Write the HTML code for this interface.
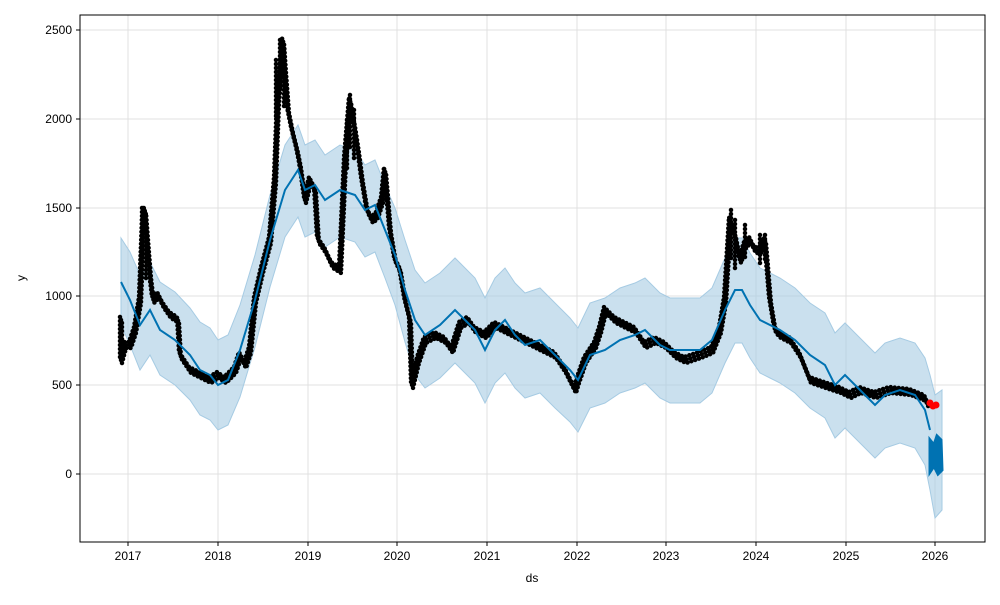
<!DOCTYPE html>
<html><head><meta charset="utf-8"><style>
body{margin:0;background:#fff;font-family:"Liberation Sans",sans-serif}
</style></head><body>
<svg width="1000" height="600" xmlns="http://www.w3.org/2000/svg" font-family="Liberation Sans, sans-serif" font-size="12">
<defs>
<polyline id="d" points="121,320 121,360 125,345 130,345 135,330 140,300 143,220 145,210 148,250 150,275 153,300 158,295 163,305 170,315 178,320 180,355 190,370 200,375 210,380 218,375 225,380 235,370 240,355 245,365 250,350 255,300 262,270 270,240 275,180 278,100 283,40 285,70 288,110 292,130 297,150 300,165 305,200 310,180 315,190 318,240 325,250 332,265 340,270 345,160 350,100 355,130 358,150 362,180 367,210 372,220 377,215 382,200 385,170 390,230 395,260 400,270 405,300 410,320 412,385 418,360 425,340 435,335 445,340 452,350 460,325 468,320 475,330 485,335 495,325 505,330 515,335 525,340 535,345 545,350 555,355 565,370 575,390 578,380 585,360 595,345 600,330 605,310 615,320 625,325 635,330 645,345 655,340 665,345 675,355 685,360 700,355 712,350 720,330 725,300 730,220 735,235 740,260 745,245 750,240 755,250 760,250 765,240 770,300 775,330 780,335 790,340 800,355 810,380 825,385 840,390 850,395 860,390 875,395 890,390 910,392 925,398 928,405"/>
</defs>
<g stroke="#e0e0e0" stroke-width="1">
<line x1="128" y1="15" x2="128" y2="542"/><line x1="218" y1="15" x2="218" y2="542"/><line x1="308" y1="15" x2="308" y2="542"/><line x1="397" y1="15" x2="397" y2="542"/><line x1="487" y1="15" x2="487" y2="542"/><line x1="577" y1="15" x2="577" y2="542"/><line x1="666" y1="15" x2="666" y2="542"/><line x1="756" y1="15" x2="756" y2="542"/><line x1="846" y1="15" x2="846" y2="542"/><line x1="935" y1="15" x2="935" y2="542"/>
<line x1="80" y1="30" x2="985" y2="30"/><line x1="80" y1="119" x2="985" y2="119"/><line x1="80" y1="208" x2="985" y2="208"/><line x1="80" y1="296" x2="985" y2="296"/><line x1="80" y1="385" x2="985" y2="385"/><line x1="80" y1="474" x2="985" y2="474"/>
</g>
<path fill="#a6cbe3" fill-opacity="0.6" stroke="#a6cbe3" stroke-width="1" d="M121,238 L130,252 L140,275 L150,262 L160,282 L175,292 L190,308 L200,322 L210,328 L218,340 L228,335 L240,305 L255,255 L270,195 L285,145 L298,125 L305,145 L315,140 L325,155 L340,145 L355,150 L365,165 L375,160 L385,185 L395,208 L405,240 L415,270 L425,283 L440,273 L455,258 L465,268 L475,278 L485,298 L495,278 L505,268 L515,283 L525,293 L540,288 L555,303 L570,318 L578,328 L590,303 L605,298 L620,288 L635,283 L645,278 L660,293 L670,298 L685,298 L700,298 L712,288 L725,258 L735,238 L742,238 L750,253 L760,268 L770,273 L780,278 L795,288 L810,303 L825,313 L835,333 L845,323 L855,333 L865,343 L875,353 L885,343 L900,338 L915,343 L925,358 L930,375 L935,395 L942,390 L942,510 L935,518 L930,490 L925,465 L915,448 L900,443 L885,448 L875,458 L865,448 L855,438 L845,428 L835,438 L825,418 L810,408 L795,393 L780,383 L770,378 L760,373 L750,358 L742,343 L735,343 L725,363 L712,393 L700,403 L685,403 L670,403 L660,398 L645,383 L635,388 L620,393 L605,403 L590,408 L578,432 L570,422 L555,408 L540,393 L525,398 L515,388 L505,373 L495,383 L485,403 L475,383 L465,373 L455,363 L440,378 L425,388 L415,375 L405,342 L395,305 L385,278 L375,252 L365,257 L355,242 L340,237 L325,247 L315,232 L305,237 L298,217 L285,237 L270,287 L255,347 L240,397 L228,425 L218,430 L210,420 L200,415 L190,400 L175,385 L160,375 L150,355 L140,370 L130,345 L121,325 Z"/>
<g fill="none" stroke="#000" stroke-width="4.5" stroke-linecap="round" stroke-dasharray="0 4">
<use href="#d"/>
<use href="#d" transform="translate(1,3)"/>
<use href="#d" transform="translate(-1,-3)"/>
<path d="M142,208 L142,260 M146,230 L146,280 M276,60 L276,120 M280,40 L280,90 M284,50 L284,110 M347,120 L347,170 M350,95 L350,150 M354,110 L354,160 M731,210 L731,260 M735,220 L735,270 M745,225 L745,260 M760,235 L760,265 M765,235 L765,260"/>
</g>
<circle cx="930" cy="403" r="3.5" fill="red"/><circle cx="933" cy="406" r="3.5" fill="red"/><circle cx="936" cy="405" r="3.5" fill="red"/>
<polyline fill="none" stroke="#0072b2" stroke-width="2" points="121,282 130,300 140,325 150,310 160,330 175,340 190,355 200,370 210,375 218,385 228,380 240,350 255,300 270,240 285,190 298,170 305,190 315,185 325,200 340,190 355,195 365,210 375,205 385,230 395,255 405,290 415,320 425,335 440,325 455,310 465,320 475,330 485,350 495,330 505,320 515,335 525,345 540,340 555,355 570,370 578,380 590,355 605,350 620,340 635,335 645,330 660,345 670,350 685,350 700,350 712,340 725,310 735,290 742,290 750,305 760,320 770,325 780,330 795,340 810,355 825,365 835,385 845,375 855,385 865,395 875,405 885,395 900,390 915,395 925,410 930,430"/>
<path d="M930,440 L934,445 L937,436 L941,440 L942,470 L938,474 L934,466 L930,472 Z" fill="#0072b2" stroke="#0072b2" stroke-width="3"/>
<rect x="80" y="15" width="905" height="527" fill="none" stroke="#000" stroke-width="1"/>
<g stroke="#000"><line x1="128" y1="542" x2="128" y2="546"/><line x1="218" y1="542" x2="218" y2="546"/><line x1="308" y1="542" x2="308" y2="546"/><line x1="397" y1="542" x2="397" y2="546"/><line x1="487" y1="542" x2="487" y2="546"/><line x1="577" y1="542" x2="577" y2="546"/><line x1="666" y1="542" x2="666" y2="546"/><line x1="756" y1="542" x2="756" y2="546"/><line x1="846" y1="542" x2="846" y2="546"/><line x1="935" y1="542" x2="935" y2="546"/>
<line x1="76" y1="30" x2="80" y2="30"/><line x1="76" y1="119" x2="80" y2="119"/><line x1="76" y1="208" x2="80" y2="208"/><line x1="76" y1="296" x2="80" y2="296"/><line x1="76" y1="385" x2="80" y2="385"/><line x1="76" y1="474" x2="80" y2="474"/></g>
<g text-anchor="middle"><text x="128" y="560">2017</text><text x="218" y="560">2018</text><text x="308" y="560">2019</text><text x="397" y="560">2020</text><text x="487" y="560">2021</text><text x="577" y="560">2022</text><text x="666" y="560">2023</text><text x="756" y="560">2024</text><text x="846" y="560">2025</text><text x="935" y="560">2026</text><text x="532" y="582">ds</text></g>
<g text-anchor="end"><text x="72" y="34">2500</text><text x="72" y="123">2000</text><text x="72" y="212">1500</text><text x="72" y="300">1000</text><text x="72" y="389">500</text><text x="72" y="478">0</text></g>
<text x="25" y="278" text-anchor="middle" transform="rotate(-90 25 278)">y</text>
</svg>
</body></html>
